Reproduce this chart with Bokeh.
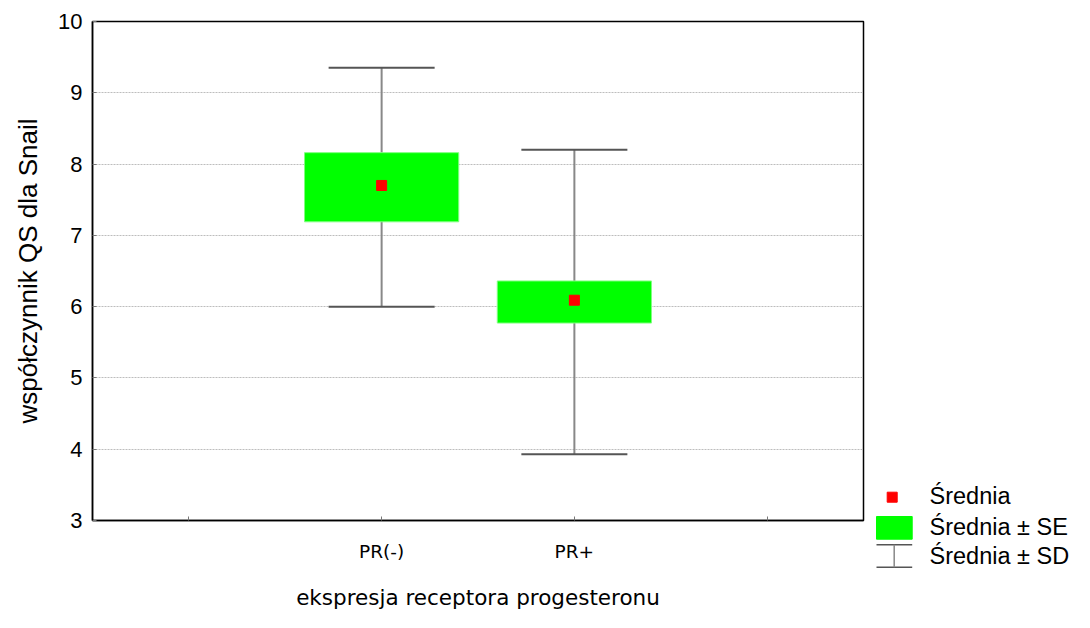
from bokeh.plotting import figure
from bokeh.models import FixedTicker, Range1d
from bokeh.layouts import row
from bokeh.core.properties import value
from bokeh.embed import file_html
from bokeh.resources import INLINE

# ---- data ----
categories = ["PR(-)", "PR+"]
cat_pos = [2, 3]
tick_pos = [1, 2, 3, 4]
mean = [7.70, 6.09]
se_low = [7.19, 5.77]
se_high = [8.16, 6.36]
sd_low = [6.00, 3.93]
sd_high = [9.35, 8.20]
y_ticks = [3, 4, 5, 6, 7, 8, 9, 10]
legend_labels = ["Średnia", "Średnia ± SE", "Średnia ± SD"]

BOX_W = 0.8
CAP_W = 0.55
W1, W2, H = 868, 206, 612

p = figure(width=W1, height=H, output_backend="svg", toolbar_location=None,
           x_range=Range1d(0.5, 4.5), y_range=Range1d(3, 10),
           min_border_left=92, min_border_right=5, min_border_top=21, min_border_bottom=92)
p.frame_align = False
p.background_fill_color = "white"
p.border_fill_color = "white"
p.outline_line_color = "black"
p.outline_line_width = 1.5

# grid
p.xgrid.visible = False
p.ygrid.ticker = FixedTicker(ticks=[4, 5, 6, 7, 8, 9])
p.ygrid.grid_line_color = "#bdbdbd"
p.ygrid.grid_line_dash = "2 1"
p.ygrid.grid_line_width = 1

# whiskers (SD)
p.segment(x0=cat_pos, y0=sd_low, x1=cat_pos, y1=sd_high, line_color="#888888", line_width=2)
p.segment(x0=[c - CAP_W / 2 for c in cat_pos], y0=sd_high, x1=[c + CAP_W / 2 for c in cat_pos],
          y1=sd_high, line_color="#555555", line_width=2)
p.segment(x0=[c - CAP_W / 2 for c in cat_pos], y0=sd_low, x1=[c + CAP_W / 2 for c in cat_pos],
          y1=sd_low, line_color="#555555", line_width=2)
# SE box
p.vbar(x=cat_pos, width=BOX_W, bottom=se_low, top=se_high, fill_color="#00ff00",
       line_color="#80ff80", line_width=1)
# mean
p.scatter(x=cat_pos, y=mean, marker="square", size=10, fill_color="#ff0000", line_color="#ff0000")

# axes
for ax in (p.xaxis[0], p.yaxis[0]):
    ax.axis_line_color = "black"
    ax.axis_line_width = 1.5
    ax.major_tick_in = 4
    ax.major_tick_out = 0
    ax.major_tick_line_color = "#777777"
    ax.minor_tick_line_color = None
    ax.major_label_text_color = "black"
    ax.axis_label_text_color = "black"
    ax.axis_label_text_font_style = "normal"

p.yaxis.ticker = FixedTicker(ticks=y_ticks)
p.yaxis.major_label_text_font = "Liberation Sans"
p.yaxis.major_label_text_font_size = "22px"
p.yaxis.major_label_standoff = 10
p.yaxis.axis_label = "współczynnik QS dla Snail"
p.yaxis.axis_label_text_font = "Liberation Sans"
p.yaxis.axis_label_text_font_size = "26px"
p.yaxis.axis_label_standoff = 12

p.xaxis.ticker = FixedTicker(ticks=tick_pos)
overrides = {t: "" for t in tick_pos}
for c, lab in zip(cat_pos, categories):
    overrides[c] = lab
p.xaxis.major_label_overrides = overrides
p.xaxis.major_label_text_font = "DejaVu Sans"
p.xaxis.major_label_text_font_size = "18.5px"
p.xaxis.major_label_standoff = 20
p.xaxis.axis_label = "ekspresja receptora progesteronu"
p.xaxis.axis_label_text_font = "DejaVu Sans"
p.xaxis.axis_label_text_font_size = "21.5px"
p.xaxis.axis_label_standoff = 20

# ---- legend panel: a second figure whose ranges are canvas pixels ----
q = figure(width=W2, height=H, output_backend="svg", toolbar_location=None,
           x_range=Range1d(W1, W1 + W2), y_range=Range1d(H, 0),
           min_border=0, x_axis_location=None, y_axis_location=None)
q.frame_align = False
q.outline_line_color = None
q.xgrid.visible = False
q.ygrid.visible = False
q.background_fill_color = "white"
q.border_fill_color = "white"

q.scatter(x=[891.7], y=[496.7], marker="square", size=10, fill_color="#ff0000", line_color="#ff0000")
q.quad(left=[876], right=[911.7], top=[516], bottom=[538.7], fill_color="#00ff00", line_color="#00ff00")
q.segment(x0=[876, 876], y0=[544.3, 566.7], x1=[911.7, 911.7], y1=[544.3, 566.7],
          line_color="#555555", line_width=1.5)
q.segment(x0=[893.7], y0=[544.3], x1=[893.7], y1=[566.7], line_color="#888888", line_width=1.5)
q.text(x=[929, 929, 929], y=[495, 526.5, 555], text=legend_labels,
       text_font=value("Liberation Sans"), text_font_size="23.5px", text_color="black",
       text_baseline="alphabetic", text_align="left")

layout = row(p, q)
open("out.html", "w").write(file_html(layout, INLINE))
